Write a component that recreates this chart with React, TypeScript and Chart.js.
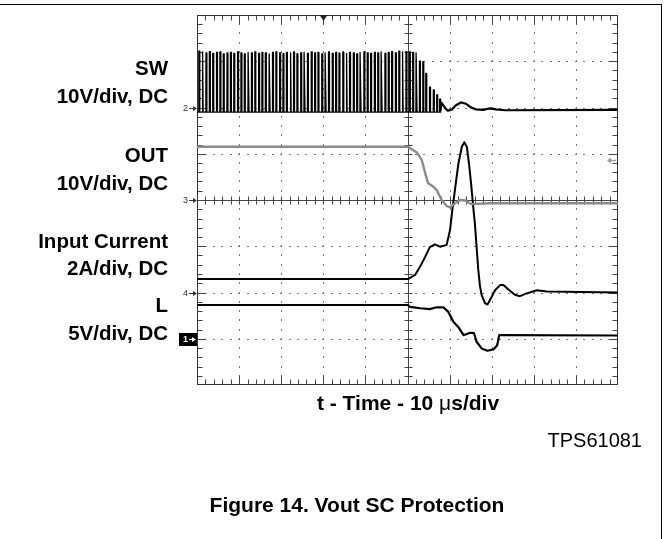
import React, { useEffect, useRef } from "react";
import { Chart, registerables } from "chart.js";
Chart.register(...registerables);

const W = 669;
const H = 539;

// ---- time axis: 0..100 us (10 us/div), vertical: -4..4 div ----
const X_MIN = 0;
const X_MAX = 100;
const Y_MIN = -4;
const Y_MAX = 4;

// ---- SW (channel 2): switching pulses, then decay and ringing ----
const swBase = 1.9;
const swPulseTimes = [
  0.4, 1.2, 2.1, 2.9, 3.7, 4.6, 5.4, 6.2, 7.1, 7.9,
  8.7, 9.6, 10.4, 11.2, 12.1, 12.9, 13.7, 14.6, 15.4, 16.2,
  17.1, 17.9, 18.7, 19.6, 20.4, 21.2, 22.1, 22.9, 23.7, 24.6,
  25.4, 26.2, 27.1, 27.9, 28.7, 29.6, 30.4, 31.2, 32.1, 32.9,
  33.7, 34.6, 35.4, 36.2, 37.1, 37.9, 38.7, 39.6, 40.4, 41.2,
  42.1, 42.9, 43.7, 44.6, 45.4, 46.2, 47.1, 47.9, 48.7, 49.6,
];
const swPulseTops = [
  3.22, 3.2, 3.18, 3.21, 3.17, 3.19, 3.2, 3.16, 3.18, 3.19,
  3.17, 3.2, 3.18, 3.16, 3.19, 3.18, 3.2, 3.17, 3.19, 3.18,
  3.16, 3.19, 3.2, 3.18, 3.17, 3.19, 3.18, 3.2, 3.16, 3.18,
  3.19, 3.17, 3.2, 3.18, 3.19, 3.16, 3.18, 3.2, 3.17, 3.19,
  3.18, 3.2, 3.17, 3.19, 3.18, 3.16, 3.19, 3.2, 3.18, 3.17,
  3.19, 3.18, 3.2, 3.17, 3.19, 3.21, 3.18, 3.22, 3.2, 3.21,
];
const swDecayTimes = [50.4, 51.2, 52.0, 52.8, 53.6, 54.3, 55.2, 56.1, 56.9, 57.6];
const swDecayTops = [3.2, 3.19, 3.18, 3.0, 2.99, 2.74, 2.44, 2.38, 2.27, 2.18];
const swTailT = [57.8, 58.1, 58.9, 59.6, 60.6, 61.5, 62.7, 63.9, 65.1, 66.3, 67.9, 69.6, 71.0, 73.2, 100];
const swTailY = [1.92, 2.1, 1.99, 1.93, 1.96, 2.05, 2.11, 2.08, 2.0, 1.96, 1.95, 1.98, 1.96, 1.94, 1.95];

// ---- OUT (channel 3, gray) ----
const outT = [0, 50.1, 51.3, 52.3, 53.4, 54.2, 54.9, 56.1, 56.9, 58.1, 59.3, 60.1, 61.3, 62.5, 63.7, 65.2, 69.6, 100];
const outY = [1.15, 1.15, 1.08, 1.02, 0.86, 0.58, 0.36, 0.29, 0.22, 0.0, -0.13, -0.16, -0.07, 0.0, -0.01, -0.09, -0.07, -0.07];

// ---- Input current (channel 4) ----
const curT = [0, 50.1, 51.8, 53.0, 54.2, 55.3, 56.5, 57.7, 58.6, 59.3, 60.1, 60.6, 61.1, 61.6, 62.1, 62.9, 63.5, 64.1, 64.6, 65.1, 65.6, 66.0, 66.4, 66.8, 67.2, 67.6, 68.4, 69.0, 69.6, 70.8, 72.0, 72.8, 73.9, 75.5, 76.7, 78.3, 80.7, 83.1, 100];
const curY = [-1.71, -1.71, -1.62, -1.44, -1.23, -1.02, -0.96, -1.01, -0.99, -0.97, -0.65, -0.25, 0.1, 0.45, 0.79, 1.15, 1.25, 1.15, 0.79, 0.36, -0.14, -0.5, -1.0, -1.5, -1.85, -2.05, -2.23, -2.26, -2.16, -1.95, -1.84, -1.84, -1.93, -2.05, -2.08, -2.02, -1.95, -1.98, -2.0];

// ---- L (channel 1) ----
const lT = [0, 50.1, 50.6, 53.0, 55.3, 56.9, 58.5, 59.7, 60.9, 62.1, 63.3, 64.1, 64.8, 65.8, 66.4, 67.6, 69.0, 70.4, 71.3, 71.8, 72.8, 100];
const lY = [-2.27, -2.27, -2.31, -2.34, -2.36, -2.32, -2.32, -2.42, -2.63, -2.75, -2.92, -2.9, -2.87, -2.88, -3.06, -3.21, -3.26, -3.23, -3.14, -2.92, -2.92, -2.93];

// ---- markers ----
const groundMarkers = [
  { label: "2", level: 2 },
  { label: "3", level: 0 },
  { label: "4", level: -2 },
];
const ch1Marker = { label: "1", level: -3 };
const triggerTime = 30;
const triggerLevel = 0.865;

// ---- texts ----
const channelLabels = [
  { text: "SW", baseline: 75 },
  { text: "10V/div, DC", baseline: 103 },
  { text: "OUT", baseline: 162 },
  { text: "10V/div, DC", baseline: 190 },
  { text: "Input Current", baseline: 248 },
  { text: "2A/div, DC", baseline: 275 },
  { text: "L", baseline: 312 },
  { text: "5V/div, DC", baseline: 340 },
];
const xAxisTitle = ["t - Time - 10 ", "\u03bc", "s/div"];
const partName = "TPS61081";
const caption = "Figure 14. Vout SC Protection";

function zip(ts: number[], ys: number[]) {
  return ts.map((t, i) => ({ x: t, y: ys[i] }));
}

function buildSWPulses() {
  const pts: { x: number; y: number }[] = [{ x: 0, y: swBase }];
  const addPulse = (t: number, top: number) => {
    pts.push({ x: t, y: swBase }, { x: t + 0.04, y: top }, { x: t + 0.22, y: top }, { x: t + 0.26, y: swBase });
  };
  swPulseTimes.forEach((t, i) => addPulse(t, swPulseTops[i]));
  swDecayTimes.forEach((t, i) => addPulse(t, swDecayTops[i]));
  return pts;
}

const FONT = '"Liberation Sans", Arial, Helvetica, sans-serif';
const LABEL_SIZE = 20.5;

const graticule = {
  id: "graticule",
  beforeDatasetsDraw(chart: any) {
    const { ctx, chartArea: a, scales } = chart;
    const xs = scales.x;
    const ys = scales.y;
    ctx.save();
    // dotted grid
    ctx.fillStyle = "#777";
    for (let d = 1; d < 10; d++) {
      if (d === 5) continue;
      const px = Math.round(xs.getPixelForValue(d * 10));
      for (let k = 1; k < 40; k++) {
        const py = Math.round(ys.getPixelForValue(Y_MIN + k * 0.2));
        ctx.fillRect(px, py - 1, 1, 2);
      }
    }
    for (let d = 1; d < 8; d++) {
      if (d === 4) continue;
      const py = Math.round(ys.getPixelForValue(Y_MIN + d));
      for (let k = 1; k < 50; k++) {
        const px = Math.round(xs.getPixelForValue(k * 2));
        ctx.fillRect(px - 1, py, 2, 1);
      }
    }
    // center lines
    ctx.strokeStyle = "#444";
    ctx.lineWidth = 1;
    const cx = Math.round(xs.getPixelForValue(50)) + 0.5;
    const cy = Math.round(ys.getPixelForValue(0)) + 0.5;
    ctx.beginPath();
    ctx.moveTo(cx, a.top);
    ctx.lineTo(cx, a.bottom);
    ctx.moveTo(a.left, cy);
    ctx.lineTo(a.right, cy);
    // center ticks
    for (let k = 1; k < 50; k++) {
      const px = Math.round(xs.getPixelForValue(k * 2)) + 0.5;
      ctx.moveTo(px, cy - 4);
      ctx.lineTo(px, cy + 4);
    }
    for (let k = 1; k < 40; k++) {
      const py = Math.round(ys.getPixelForValue(Y_MIN + k * 0.2)) + 0.5;
      ctx.moveTo(cx - 4, py);
      ctx.lineTo(cx + 4, py);
    }
    // border ticks
    const L = Math.round(a.left) + 0.5;
    const R = Math.round(a.right) - 0.5;
    const T = Math.round(a.top) + 0.5;
    const B = Math.round(a.bottom) - 0.5;
    for (let k = 1; k < 50; k++) {
      const px = Math.round(xs.getPixelForValue(k * 2)) + 0.5;
      const len = k % 5 === 0 ? 9 : 5;
      ctx.moveTo(px, T);
      ctx.lineTo(px, T + len);
      ctx.moveTo(px, B);
      ctx.lineTo(px, B - len);
    }
    for (let k = 1; k < 40; k++) {
      const py = Math.round(ys.getPixelForValue(Y_MIN + k * 0.2)) + 0.5;
      const len = k % 5 === 0 ? 9 : 5;
      ctx.moveTo(L, py);
      ctx.lineTo(L + len, py);
      ctx.moveTo(R, py);
      ctx.lineTo(R - len, py);
    }
    ctx.stroke();
    // border
    ctx.strokeStyle = "#333";
    ctx.strokeRect(L, T, R - L, B - T);
    ctx.restore();
  },
  afterDraw(chart: any) {
    const { ctx, chartArea: a, scales } = chart;
    const xs = scales.x;
    const ys = scales.y;
    ctx.save();
    const arrowRight = (x0: number, x1: number, y: number, color: string) => {
      ctx.strokeStyle = color;
      ctx.fillStyle = color;
      ctx.lineWidth = 1;
      ctx.beginPath();
      ctx.moveTo(x0, y + 0.5);
      ctx.lineTo(x1 - 3, y + 0.5);
      ctx.stroke();
      ctx.beginPath();
      ctx.moveTo(x1, y + 0.5);
      ctx.lineTo(x1 - 4, y - 2);
      ctx.lineTo(x1 - 4, y + 3);
      ctx.closePath();
      ctx.fill();
    };
    ctx.font = `9px ${FONT}`;
    ctx.textBaseline = "middle";
    ctx.textAlign = "right";
    groundMarkers.forEach((m) => {
      const py = Math.round(ys.getPixelForValue(m.level));
      ctx.fillStyle = "#333";
      ctx.fillText(m.label, a.left - 9, py + 1);
      arrowRight(a.left - 8, a.left, py, "#333");
    });
    {
      const py = Math.round(ys.getPixelForValue(ch1Marker.level));
      ctx.fillStyle = "#000";
      ctx.fillRect(a.left - 18, py - 6, 18, 13);
      ctx.fillStyle = "#fff";
      ctx.font = `bold 9px ${FONT}`;
      ctx.fillText(ch1Marker.label, a.left - 9, py + 1);
      arrowRight(a.left - 8, a.left - 1, py, "#fff");
    }
    // trigger position
    const tx = Math.round(xs.getPixelForValue(triggerTime)) + 0.5;
    ctx.fillStyle = "#222";
    ctx.beginPath();
    ctx.moveTo(tx - 4, a.top);
    ctx.lineTo(tx + 4, a.top);
    ctx.lineTo(tx, a.top + 6);
    ctx.closePath();
    ctx.fill();
    // trigger level (gray)
    const ty = Math.round(ys.getPixelForValue(triggerLevel));
    ctx.strokeStyle = "#999";
    ctx.fillStyle = "#999";
    ctx.lineWidth = 1.5;
    ctx.beginPath();
    ctx.moveTo(a.right - 2, ty + 0.5);
    ctx.lineTo(a.right - 8, ty + 0.5);
    ctx.stroke();
    ctx.beginPath();
    ctx.moveTo(a.right - 11, ty + 0.5);
    ctx.lineTo(a.right - 7, ty - 2.5);
    ctx.lineTo(a.right - 7, ty + 3.5);
    ctx.closePath();
    ctx.fill();
    ctx.restore();
  },
};

function textTop(baseline: number, size: number) {
  return baseline - 0.8465 * size;
}

export default function App() {
  const ref = useRef<HTMLCanvasElement>(null);
  useEffect(() => {
    document.body.style.margin = "0";
    const chart = new Chart(ref.current as HTMLCanvasElement, {
      type: "line",
      data: {
        datasets: [
          { label: "SW", data: buildSWPulses(), borderColor: "#000", borderWidth: 1.3 },
          { label: "SW ringing", data: zip(swTailT, swTailY), borderColor: "#000", borderWidth: 2.2 },
          { label: "OUT", data: zip(outT, outY), borderColor: "#8a8a8a", borderWidth: 2.4 },
          { label: "Input Current", data: zip(curT, curY), borderColor: "#000", borderWidth: 2 },
          { label: "L", data: zip(lT, lY), borderColor: "#000", borderWidth: 2.2 },
        ],
      },
      options: {
        animation: false,
        responsive: false,
        devicePixelRatio: 1,
        events: [],
        layout: { padding: { left: 197, top: 15, right: W - 618, bottom: H - 385 } },
        plugins: { legend: { display: false }, tooltip: { enabled: false }, title: { display: false } },
        elements: { point: { radius: 0 }, line: { tension: 0, borderJoinStyle: "round" } },
        scales: {
          x: { type: "linear", min: X_MIN, max: X_MAX, display: false },
          y: { type: "linear", min: Y_MIN, max: Y_MAX, display: false },
        },
      } as any,
      plugins: [graticule as any],
    });
    return () => chart.destroy();
  }, []);

  const base: React.CSSProperties = {
    position: "absolute",
    whiteSpace: "nowrap",
    fontFamily: FONT,
    color: "#000",
    margin: 0,
  };

  return (
    <div style={{ position: "absolute", left: 0, top: 0, width: W, height: H, background: "#fff", overflow: "hidden" }}>
      <div style={{ position: "absolute", left: 0, top: 4, width: 662, height: 1, background: "#000" }} />
      <div style={{ position: "absolute", left: 661, top: 4, width: 1, height: H - 4, background: "#000" }} />
      <canvas ref={ref} width={W} height={H} style={{ position: "absolute", left: 0, top: 0 }} />
      {channelLabels.map((l, i) => (
        <div
          key={i}
          style={{
            ...base,
            right: W - 168,
            top: textTop(l.baseline, LABEL_SIZE),
            fontSize: LABEL_SIZE,
            lineHeight: `${LABEL_SIZE}px`,
            fontWeight: 700,
            textAlign: "right",
          }}
        >
          {l.text}
        </div>
      ))}
      <div style={{ ...base, left: 108, width: 600, top: textTop(410, 21), fontSize: 21, lineHeight: "21px", fontWeight: 700, textAlign: "center" }}>
        {xAxisTitle[0]}
        <span style={{ fontWeight: 400 }}>{xAxisTitle[1]}</span>
        {xAxisTitle[2]}
      </div>
      <div style={{ ...base, right: W - 642, top: textTop(447, 20), fontSize: 20, lineHeight: "20px", fontWeight: 400, textAlign: "right" }}>
        {partName}
      </div>
      <div style={{ ...base, left: 57, width: 600, top: textTop(512, 21), fontSize: 21, lineHeight: "21px", fontWeight: 700, textAlign: "center" }}>
        {caption}
      </div>
    </div>
  );
}
